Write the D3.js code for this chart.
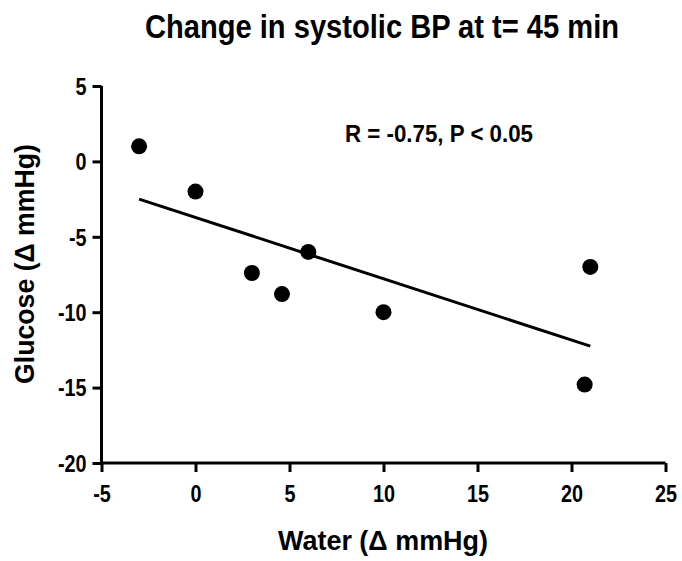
<!DOCTYPE html>
<html>
<head>
<meta charset="utf-8">
<script src="https://cdn.jsdelivr.net/npm/d3@7"></script>
<style>
  html, body { margin: 0; padding: 0; background: #fff; }
  text { font-family: "Liberation Sans Narrow", "Arial Narrow", "Liberation Sans", Arial, sans-serif; font-weight: bold; fill: #000; }
</style>
</head>
<body>
<svg id="chart" width="682" height="561"></svg>
<script>
// ---- data ----
const waterChange = [-3, 0, 3, 4.6, 6, 10, 20.7, 21];
const glucoseChange = [1, -2, -7.4, -8.8, -6, -10, -14.8, -7];
const fitX = [-3, 21];
const fitY = [-2.5, -12.25];
const xTicks = [-5, 0, 5, 10, 15, 20, 25];
const yTicks = [5, 0, -5, -10, -15, -20];
const titleText = "Change in systolic BP at t= 45 min";
const xLabel = "Water (\u0394 mmHg)";
const yLabel = "Glucose (\u0394 mmHg)";
const statText = "R = -0.75, P < 0.05";

const svg = d3.select("#chart");
const x = d3.scaleLinear().domain([-5, 25]).range([101.5, 665.5]);
const y = d3.scaleLinear().domain([-20, 5]).range([463, 86]);
const fmt = d => String(d); // plain hyphen minus, as in the reference

// axes
const xAxis = d3.axisBottom(x).tickValues(xTicks).tickSize(9).tickPadding(14).tickFormat(fmt);
const yAxis = d3.axisLeft(y).tickValues(yTicks).tickSize(9).tickPadding(6).tickFormat(fmt);

const gx = svg.append("g").attr("transform", `translate(0,${y(-20)})`).call(xAxis);
const gy = svg.append("g").attr("transform", `translate(${x(-5)},0)`).call(yAxis);
[gx, gy].forEach(g => {
  g.select(".domain").attr("stroke", "#000").attr("stroke-width", 3).attr("d",
    g === gx ? `M${x(-5)},0H${x(25)}` : `M0,${y(5)}V${y(-20)}`);
  g.selectAll(".tick line").attr("stroke", "#000").attr("stroke-width", 3);
  g.selectAll(".tick text").style("font-size", "23px");
});
gx.selectAll(".tick text").attr("dy", "0.71em");
gy.selectAll(".tick text").attr("dy", "0.36em");
// condense tick labels to match the narrow face of the reference
svg.selectAll(".tick text").each(function () {
  const len = this.getComputedTextLength();
  d3.select(this).attr("textLength", len * 0.86).attr("lengthAdjust", "spacingAndGlyphs");
});

// regression line
svg.append("line")
  .attr("x1", x(fitX[0])).attr("y1", y(fitY[0]))
  .attr("x2", x(fitX[1])).attr("y2", y(fitY[1]))
  .attr("stroke", "#000").attr("stroke-width", 3);

// points
svg.append("g").selectAll("circle")
  .data(waterChange.map((w, i) => ({ w, g: glucoseChange[i] })))
  .join("circle")
  .attr("cx", d => x(d.w)).attr("cy", d => y(d.g)).attr("r", 8)
  .attr("fill", "#000");

// title
svg.append("text").attr("x", 382).attr("y", 38).attr("text-anchor", "middle")
  .style("font-size", "33px").attr("textLength", 474).attr("lengthAdjust", "spacingAndGlyphs")
  .text(titleText);

// stat annotation
svg.append("text").attr("x", 345).attr("y", 142)
  .style("font-size", "23px").attr("textLength", 188).attr("lengthAdjust", "spacingAndGlyphs")
  .text(statText);

// axis titles
svg.append("text").attr("x", 383).attr("y", 550).attr("text-anchor", "middle")
  .style("font-size", "27px").attr("textLength", 210).attr("lengthAdjust", "spacingAndGlyphs")
  .text(xLabel);

svg.append("text").attr("transform", "translate(34,264) rotate(-90)").attr("text-anchor", "middle")
  .style("font-size", "27px").attr("textLength", 240).attr("lengthAdjust", "spacingAndGlyphs")
  .text(yLabel);
</script>
</body>
</html>
